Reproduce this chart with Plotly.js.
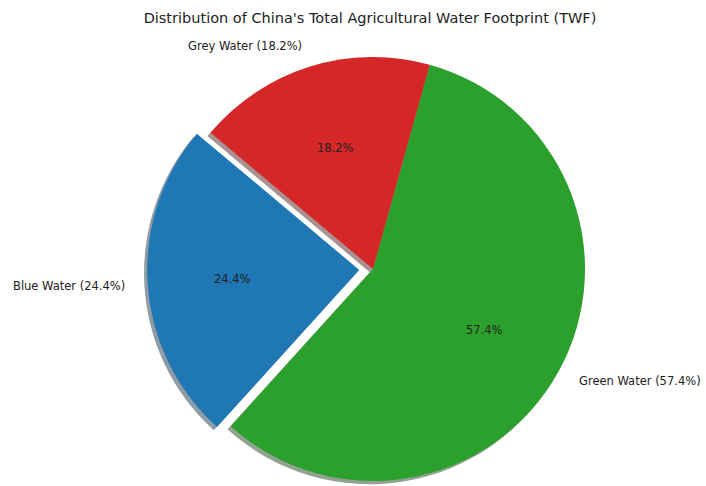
<!DOCTYPE html>
<html><head><meta charset="utf-8">
<script src="https://cdn.plot.ly/plotly-3.0.1.min.js"></script>
<style>html,body{margin:0;padding:0;background:#fff;overflow:hidden}#chart{width:706px;height:486px}</style>
</head><body><div id="chart"></div>
<script>
const categories = ["Blue Water", "Green Water", "Grey Water"];
const shares = [24.4, 57.4, 18.2];
const sliceColors = ["#1f77b4", "#2ca02c", "#d62728"];
const explode = [0.065, 0, 0];
const chartTitle = "Distribution of China's Total Agricultural Water Footprint (TWF)";
const START_ANGLE = 140;

const W = 706, H = 486;
const CX = 373, CY = 269, R = 212;
const SHADOW = 0.015;
const FONT = "DejaVu Sans, sans-serif";

const total = shares.reduce((a, b) => a + b, 0);
const rad = d => d * Math.PI / 180;
const TRANSPARENT = "rgba(0,0,0,0)";

function hexToRgb(h) { const n = parseInt(h.slice(1), 16); return [(n >> 16) & 255, (n >> 8) & 255, n & 255]; }
function shadowColor(h) { const c = hexToRgb(h).map(v => Math.round(v * 0.3)); return `rgba(${c[0]},${c[1]},${c[2]},0.45)`; }

let acc = START_ANGLE;
const mids = [], offsets = [];
shares.forEach((s, i) => {
  const span = s / total * 360;
  const mid = acc + span / 2;
  mids.push(mid);
  offsets.push([explode[i] * R * Math.cos(rad(mid)), -explode[i] * R * Math.sin(rad(mid))]);
  acc += span;
});

function domainFor(ox, oy) {
  return {
    x: [(CX + ox - R) / W, (CX + ox + R) / W],
    y: [Math.max(0, 1 - (CY + oy + R) / H), 1 - (CY + oy - R) / H]
  };
}

const rotation = 90 - START_ANGLE - shares[0] / total * 360;

function pieTrace(i, colorFn, ox, oy) {
  return {
    type: "pie",
    values: shares,
    labels: categories,
    sort: false,
    direction: "counterclockwise",
    rotation: rotation,
    marker: { colors: sliceColors.map((c, j) => j === i ? colorFn(c) : TRANSPARENT), line: { width: 0 } },
    textinfo: "none",
    hoverinfo: "skip",
    showlegend: false,
    domain: domainFor(ox, oy)
  };
}

const traces = [];
shares.forEach((s, i) => traces.push(pieTrace(i, shadowColor, offsets[i][0] - SHADOW * R, offsets[i][1] + SHADOW * R)));
shares.forEach((s, i) => traces.push(pieTrace(i, c => c, offsets[i][0], offsets[i][1])));

const annotations = [];
shares.forEach((s, i) => {
  const cx = CX + offsets[i][0], cy = CY + offsets[i][1];
  const c = Math.cos(rad(mids[i])), sn = Math.sin(rad(mids[i]));
  const lx = cx + 1.1 * R * c, ly = cy - 1.1 * R * sn;
  annotations.push({
    text: `${categories[i]} (${s.toFixed(1)}%)`, xref: "paper", yref: "paper",
    x: lx / W, y: 1 - ly / H, xanchor: c > 0 ? "left" : "right", yanchor: "middle",
    showarrow: false, font: { family: FONT, size: 11.5, color: "#222" }
  });
  const px = cx + 0.6 * R * c, py = cy - 0.6 * R * sn;
  annotations.push({
    text: `${s.toFixed(1)}%`, xref: "paper", yref: "paper",
    x: px / W, y: 1 - py / H, xanchor: "center", yanchor: "middle",
    showarrow: false, font: { family: FONT, size: 11.5, color: "#222" }
  });
});

const layout = {
  width: W, height: H,
  margin: { l: 0, r: 0, t: 0, b: 0 },
  paper_bgcolor: "#fff",
  showlegend: false,
  title: { text: chartTitle, x: 370 / W, xanchor: "center", xref: "paper", y: 1 - 18 / H, yref: "container", yanchor: "middle",
           font: { family: FONT, size: 14.5, color: "#222" } },
  annotations: annotations
};

Plotly.newPlot("chart", traces, layout, { displayModeBar: false, staticPlot: true });
</script></body></html>
